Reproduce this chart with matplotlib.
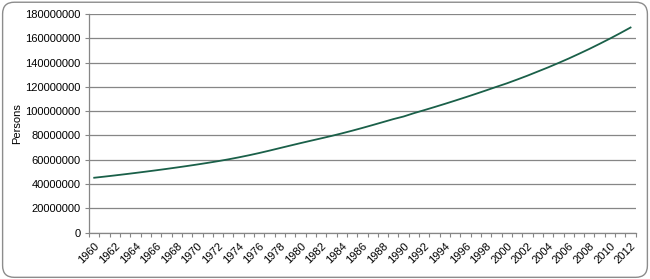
import matplotlib.pyplot as plt
from matplotlib.patches import FancyBboxPatch

plt.rcParams['font.family'] = ['Liberation Sans', 'DejaVu Sans']

years = list(range(1960, 2013))
population = [
    45211614, 46144154, 47117859, 48128460, 49169312, 50239411, 51336592,
    52468229, 53650700, 54863000, 56131844, 57453000, 58845000, 60343000,
    61966000, 63701000, 65565000, 67556000, 69621000, 71668000, 73698099,
    75675000, 77623000, 79601000, 81700000, 83901000, 86200000, 88583000,
    91014000, 93460000, 95617350, 98359000, 100853000, 103406000, 106016000,
    108703000, 111440000, 114244000, 117107000, 120037000, 122876723,
    126000000, 129200000, 132600000, 136000000, 139600000, 143300000,
    147200000, 151200000, 155400000, 159707780, 164200000, 168833776,
]
y_ticks = list(range(0, 180000001, 20000000))

fig = plt.figure(figsize=(6.5, 2.79), dpi=100)
border = FancyBboxPatch((0.004, 0.006), 0.992, 0.986, transform=fig.transFigure,
                        boxstyle="round,pad=0,rounding_size=0.018",
                        facecolor='white', edgecolor='#8c8c8c', linewidth=1.0,
                        mutation_aspect=650 / 279, zorder=-10)
fig.patches.append(border)

ax = fig.add_axes([0.137, 0.166, 0.841, 0.784])
ax.patch.set_visible(False)
x = list(range(len(years)))
ax.plot(x, population, color='#1a6049', linewidth=1.3)

ax.set_xlim(-0.5, len(years) - 0.5)
ax.set_ylim(0, 180000000)
ax.set_yticks(y_ticks)
ax.set_yticklabels([str(v) for v in y_ticks], fontsize=8)
ax.yaxis.grid(True, color='#868686', linewidth=0.9)
ax.set_axisbelow(True)

ax.set_xticks(x[::2])
ax.set_xticklabels([str(y) for y in years[::2]], fontsize=8, rotation=45,
                   ha='right', va='top', rotation_mode='anchor')
ax.set_xticks([i - 0.5 for i in range(len(years) + 1)], minor=True)
ax.tick_params(axis='x', which='major', length=0, pad=6)
ax.tick_params(axis='x', which='minor', length=3, color='#868686', width=0.8)
ax.tick_params(axis='y', length=3, color='#868686', width=0.8, pad=3)

for side in ['top', 'right']:
    ax.spines[side].set_visible(False)
for side in ['left', 'bottom']:
    ax.spines[side].set_color('#868686')
    ax.spines[side].set_linewidth(0.9)

ax.set_ylabel('Persons', fontsize=8, labelpad=2)

fig.savefig('out.png', dpi=100)
